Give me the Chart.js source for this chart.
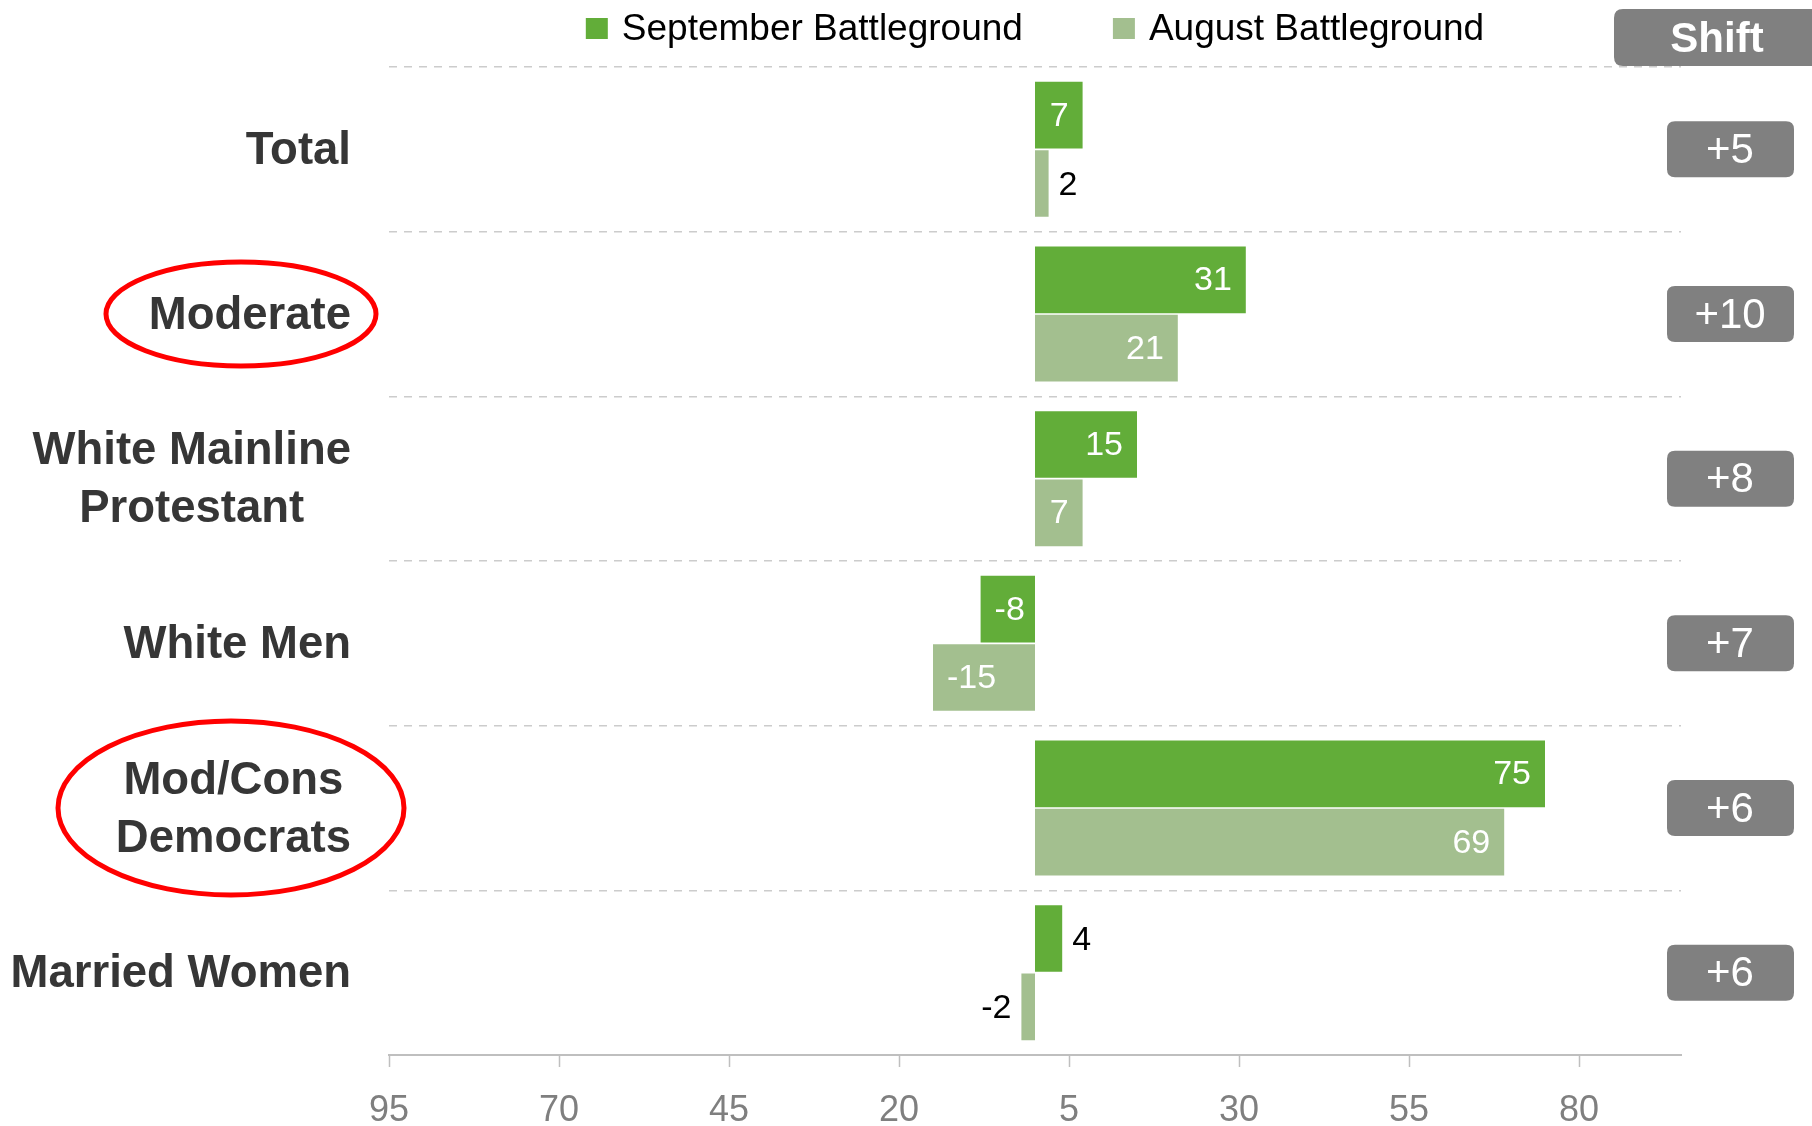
<!DOCTYPE html>
<html>
<head>
<meta charset="utf-8">
<title>Battleground shift</title>
<script src="https://cdn.jsdelivr.net/npm/chart.js@4.4.1/dist/chart.umd.min.js"></script>
<style>
    html, body { margin: 0; padding: 0; background: #fff; }
    #wrap { position: relative; width: 1812px; height: 1126px; }
</style>
</head>
<body>
<div id="wrap"><canvas id="shiftChart"></canvas></div>
<script>
// Data
const categories = ['Total', 'Moderate', ['White Mainline', 'Protestant'], 'White Men', ['Mod/Cons', 'Democrats'], 'Married Women'];
const septemberValues = [7, 31, 15, -8, 75, 4];
const augustValues = [2, 21, 7, -15, 69, -2];
const shiftLabels = ['+5', '+10', '+8', '+7', '+6', '+6'];
const tickValues = [-95, -70, -45, -20, 5, 30, 55, 80];
const circledRows = [1, 4];

const FONT = '"Liberation Sans", Arial, Helvetica, sans-serif';
const SEPT_GREEN = '#62ad39';
const AUG_GREEN = '#a3bf8f';

function roundRect(ctx, x, y, w, h, r) {
    ctx.beginPath();
    ctx.moveTo(x + r, y);
    ctx.lineTo(x + w - r, y);
    ctx.quadraticCurveTo(x + w, y, x + w, y + r);
    ctx.lineTo(x + w, y + h - r);
    ctx.quadraticCurveTo(x + w, y + h, x + w - r, y + h);
    ctx.lineTo(x + r, y + h);
    ctx.quadraticCurveTo(x, y + h, x, y + h - r);
    ctx.lineTo(x, y + r);
    ctx.quadraticCurveTo(x, y, x + r, y);
    ctx.closePath();
}

// Value labels on the bars
const barLabels = {
    id: 'barLabels',
    afterDatasetsDraw(chart) {
        const ctx = chart.ctx;
        ctx.save();
        ctx.font = '34px ' + FONT;
        ctx.textBaseline = 'middle';
        chart.data.datasets.forEach((ds, di) => {
            chart.getDatasetMeta(di).data.forEach((bar, i) => {
                const v = ds.data[i];
                const txt = String(v);
                if (Math.abs(v) > 4) {
                    ctx.fillStyle = '#ffffff';
                    ctx.textAlign = v > 0 ? 'right' : 'left';
                    ctx.fillText(txt, v > 0 ? bar.x - 14 : bar.x + 14, bar.y + 1);
                } else {
                    ctx.fillStyle = '#000000';
                    ctx.textAlign = v > 0 ? 'left' : 'right';
                    ctx.fillText(txt, v > 0 ? bar.x + 10 : bar.x - 10, bar.y + 2);
                }
            });
        });
        ctx.restore();
    }
};

// Category names, legend, shift column and the red circles
const overlay = {
    id: 'overlay',
    afterDraw(chart) {
        const ctx = chart.ctx;
        const yScale = chart.scales.y;
        const area = chart.chartArea;
        ctx.save();

        // category labels: block right aligned, lines centred
        ctx.font = 'bold 45.5px ' + FONT;
        ctx.fillStyle = '#363636';
        ctx.textBaseline = 'middle';
        ctx.textAlign = 'center';
        const lineH = 58;
        categories.forEach((cat, i) => {
            const lines = Array.isArray(cat) ? cat : [cat];
            const widest = Math.max(...lines.map(l => ctx.measureText(l).width));
            const cx = 351 - widest / 2;
            const cy = yScale.getPixelForValue(i);
            lines.forEach((l, k) => {
                ctx.fillText(l, cx, cy + (k - (lines.length - 1) / 2) * lineH + 2);
            });
        });

        // red ellipses
        ctx.strokeStyle = '#ff0000';
        ctx.lineWidth = 5;
        const ellipses = { 1: [241, 135, 52], 4: [231, 173, 87] };
        circledRows.forEach(r => {
            const [ex, rx, ry] = ellipses[r];
            ctx.beginPath();
            ctx.ellipse(ex, yScale.getPixelForValue(r), rx, ry, 0, 0, Math.PI * 2);
            ctx.stroke();
        });

        // legend
        ctx.font = '37px ' + FONT;
        ctx.textAlign = 'left';
        const items = chart.data.datasets.map(ds => ({ text: ds.label, color: ds.backgroundColor }));
        const widths = items.map(it => ctx.measureText(it.text).width);
        const gap = 90;
        const total = widths.reduce((a, w) => a + 22 + 14 + w, 0) + gap * (items.length - 1);
        let lx = (area.left + area.right) / 2 - total / 2;
        items.forEach((it, k) => {
            ctx.fillStyle = it.color;
            ctx.fillRect(lx, 18, 22, 21);
            ctx.fillStyle = '#000000';
            ctx.fillText(it.text, lx + 36, 30);
            lx += 36 + widths[k] + gap;
        });

        // shift header
        ctx.fillStyle = '#808080';
        roundRect(ctx, 1614, 9, 230, 57, 9);
        ctx.fill();
        ctx.fillStyle = '#ffffff';
        ctx.font = 'bold 42px ' + FONT;
        ctx.textAlign = 'center';
        ctx.fillText('Shift', 1717, 40);

        // shift boxes
        ctx.font = '42px ' + FONT;
        shiftLabels.forEach((s, i) => {
            const cy = yScale.getPixelForValue(i);
            ctx.fillStyle = '#808080';
            roundRect(ctx, 1667, cy - 28, 127, 56, 8);
            ctx.fill();
            ctx.fillStyle = '#ffffff';
            ctx.fillText(s, 1730, cy + 2);
        });

        ctx.restore();
    }
};

document.addEventListener('DOMContentLoaded', function () {
    Chart.defaults.font.family = FONT;

    new Chart(document.getElementById('shiftChart').getContext('2d'), {
        type: 'bar',
        data: {
            labels: categories,
            datasets: [
                { label: 'September Battleground', data: septemberValues, backgroundColor: SEPT_GREEN },
                { label: 'August Battleground', data: augustValues, backgroundColor: AUG_GREEN }
            ]
        },
        options: {
            indexAxis: 'y',
            responsive: true,
            maintainAspectRatio: false,
            animation: false,
            layout: { padding: { top: 67, right: 131, left: 0, bottom: 0 } },
            datasets: { bar: { categoryPercentage: 0.83, barPercentage: 0.975 } },
            plugins: {
                legend: { display: false },
                tooltip: { enabled: false }
            },
            scales: {
                x: {
                    min: -95,
                    max: 95,
                    afterBuildTicks: scale => { scale.ticks = tickValues.map(v => ({ value: v })); },
                    afterFit: scale => { scale.height = 71; },
                    grid: { drawOnChartArea: false, drawTicks: true, tickLength: 12, tickColor: '#bfbfbf', tickWidth: 1.5 },
                    border: { display: true, color: '#bfbfbf', width: 2 },
                    ticks: {
                        autoSkip: false,
                        maxRotation: 0,
                        padding: 22,
                        color: '#7f7f7f',
                        font: { size: 36 },
                        callback: v => String(Math.abs(v))
                    }
                },
                y: {
                    afterFit: scale => { scale.width = 389; },
                    grid: { color: '#cccccc', lineWidth: 1.5, drawTicks: false },
                    border: { display: false, dash: [8, 7] },
                    ticks: { display: false }
                }
            }
        },
        plugins: [barLabels, overlay]
    });
});
</script>
</body>
</html>
